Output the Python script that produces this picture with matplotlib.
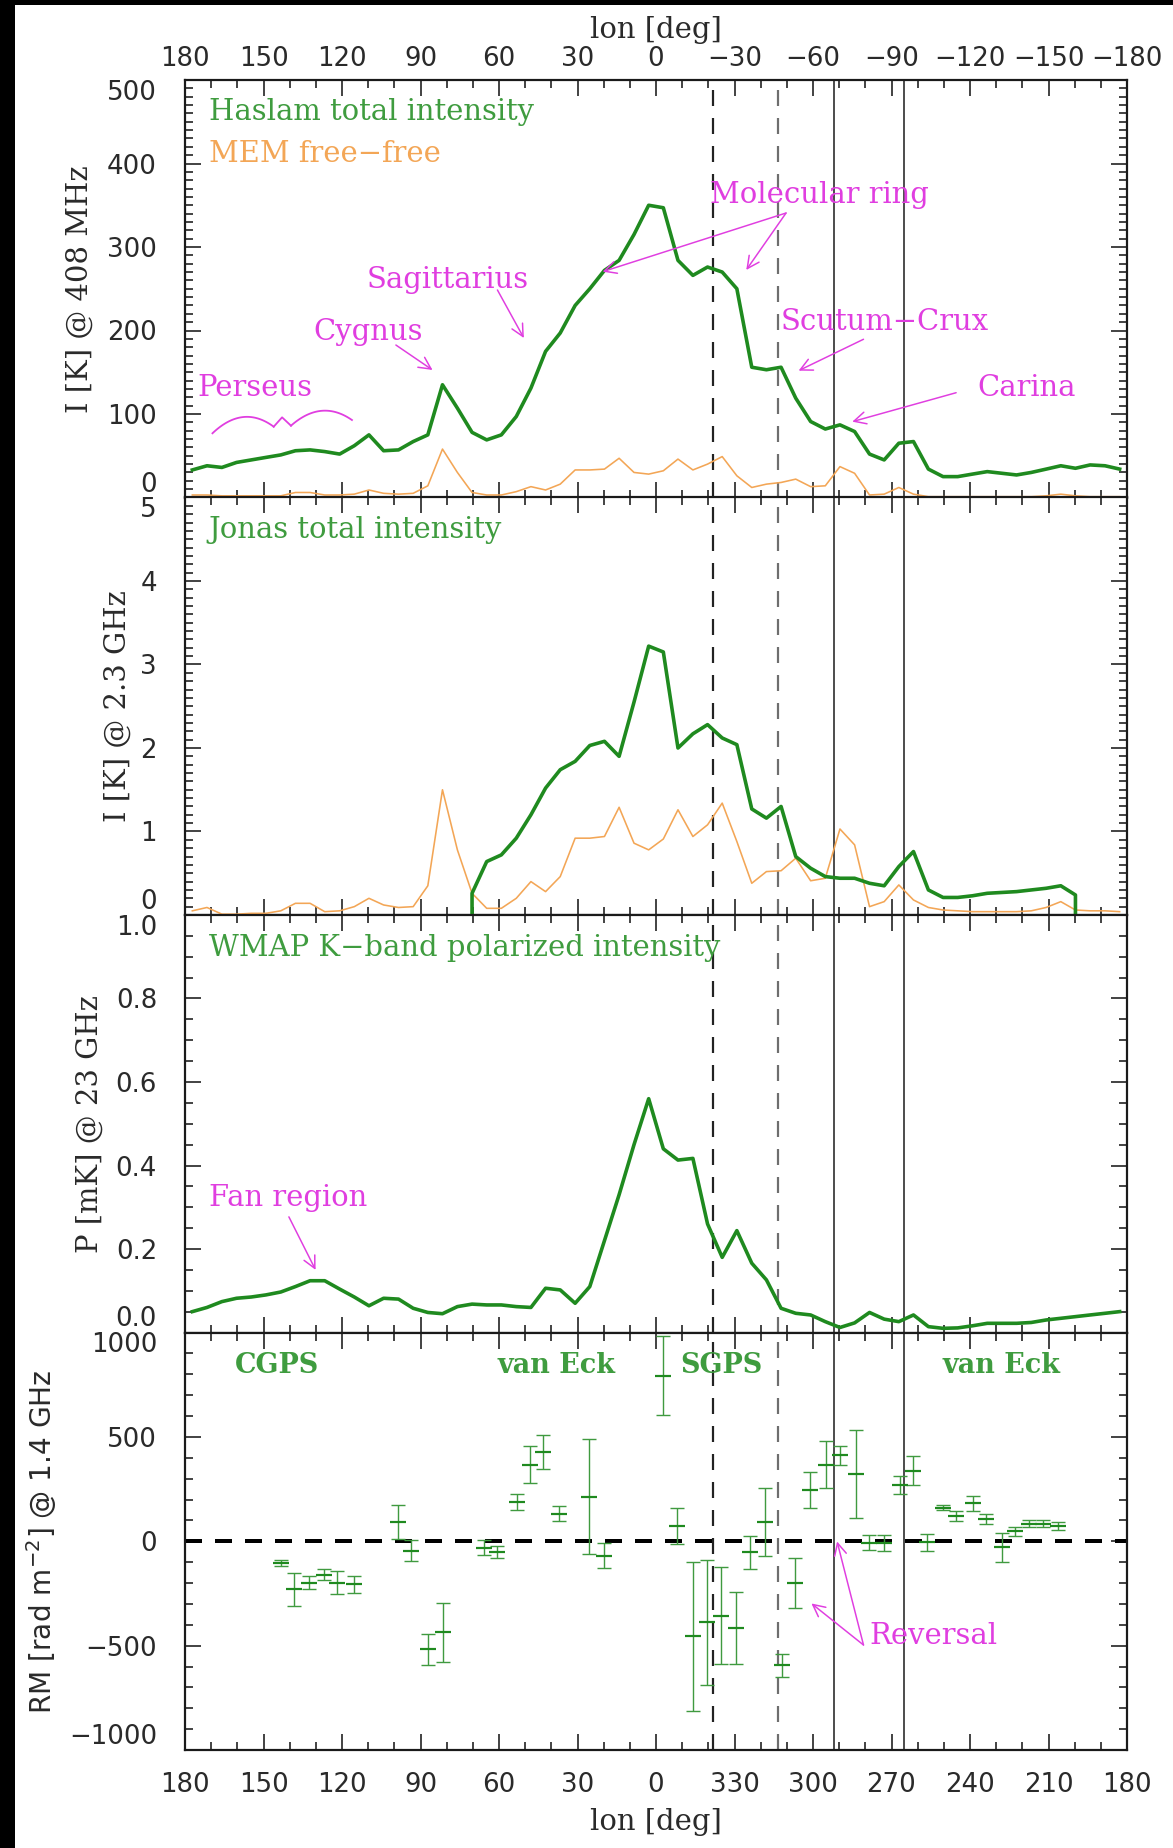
import matplotlib
matplotlib.use("Agg")
import numpy as np
import matplotlib.pyplot as plt
from matplotlib.ticker import MultipleLocator
from matplotlib.patches import Rectangle

plt.rcParams['lines.scale_dashes'] = False

W, H, DPI = 1173, 1848, 100
def pt(p):
    return p * 72.0 / DPI

# ---------------- data ----------------
lon = [177.2, 171.6, 165.9, 160.3, 154.7, 149.1, 143.4, 137.8, 132.2, 126.6,
       120.9, 115.3, 109.7, 104.1, 98.4, 92.8, 87.2, 81.6, 75.9, 70.3,
       64.7, 59.1, 53.4, 47.8, 42.2, 36.6, 30.9, 25.3, 19.7, 14.1,
       8.4, 2.8, -2.8, -8.4, -14.1, -19.7, -25.3, -30.9, -36.6, -42.2,
       -47.8, -53.4, -59.1, -64.7, -70.3, -75.9, -81.6, -87.2, -92.8, -98.4,
       -104.1, -109.7, -115.3, -120.9, -126.6, -132.2, -137.8, -143.4, -149.1, -154.7,
       -160.3, -165.9, -171.6, -177.2]

haslam = [33, 38, 36, 42, 45, 48, 51, 56, 57, 55,
          52, 62, 75, 56, 57, 67, 75, 135, 107, 78,
          69, 75, 97, 131, 175, 197, 230, 250, 272, 284,
          315, 350, 347, 284, 266, 276, 270, 250, 156, 153,
          156, 119, 91, 82, 87, 79, 52, 45, 65, 67,
          34, 25, 25, 28, 31, 29, 27, 30, 34, 38,
          35, 39, 38, 34]

mem_408 = [3, 3, 2, 2, 2, 2, 2, 6, 6, 3,
           3, 4, 9, 5, 4, 5, 14, 58, 30, 6,
           3, 3, 7, 13, 9, 16, 33, 33, 34, 47,
           30, 28, 32, 46, 33, 40, 49, 26, 12, 16,
           18, 22, 13, 14, 37, 29, 3, 4, 12, 4,
           1, 1, 1, 1, 1, 1, 1, 1, 2, 4,
           2, 1, 1, 1]

mem_2300 = [0.05, 0.09, 0.01, 0.01, 0.02, 0.02, 0.05, 0.14, 0.14, 0.04,
            0.05, 0.10, 0.20, 0.12, 0.09, 0.10, 0.35, 1.50, 0.78, 0.26,
            0.08, 0.08, 0.20, 0.40, 0.28, 0.46, 0.92, 0.92, 0.94, 1.29,
            0.86, 0.78, 0.91, 1.26, 0.94, 1.08, 1.34, 0.88, 0.38, 0.52,
            0.53, 0.68, 0.41, 0.44, 1.03, 0.84, 0.10, 0.16, 0.36, 0.18,
            0.09, 0.06, 0.05, 0.04, 0.04, 0.04, 0.04, 0.05, 0.09, 0.16,
            0.06, 0.05, 0.05, 0.04]

jonas_lon = [70.3, 70.3, 64.7, 59.1, 53.4, 47.8, 42.2, 36.6, 30.9, 25.3, 19.7, 14.1,
             8.4, 2.8, -2.8, -8.4, -14.1, -19.7, -25.3, -30.9, -36.6, -42.2,
             -47.8, -53.4, -59.1, -64.7, -70.3, -75.9, -81.6, -87.2, -92.8, -98.4,
             -104.1, -109.7, -115.3, -120.9, -126.6, -132.2, -137.8, -143.4, -149.1, -154.7,
             -160.3, -160.3]
jonas = [0.0, 0.26, 0.64, 0.72, 0.92, 1.20, 1.52, 1.74, 1.84, 2.03, 2.08, 1.90,
         2.55, 3.22, 3.15, 2.00, 2.17, 2.28, 2.12, 2.04, 1.27, 1.16,
         1.30, 0.70, 0.56, 0.46, 0.44, 0.44, 0.38, 0.35, 0.58, 0.76,
         0.30, 0.21, 0.21, 0.23, 0.26, 0.27, 0.28, 0.30, 0.32, 0.35,
         0.24, 0.0]

wmap_p = [0.050, 0.060, 0.074, 0.082, 0.085, 0.090, 0.097, 0.110, 0.124, 0.124,
          0.104, 0.085, 0.064, 0.082, 0.080, 0.058, 0.048, 0.045, 0.062, 0.068,
          0.066, 0.066, 0.062, 0.060, 0.106, 0.102, 0.070, 0.110, 0.220, 0.330,
          0.450, 0.560, 0.440, 0.413, 0.417, 0.260, 0.180, 0.244, 0.166, 0.126,
          0.058, 0.046, 0.042, 0.026, 0.012, 0.023, 0.048, 0.032, 0.026, 0.042,
          0.014, 0.010, 0.011, 0.016, 0.022, 0.022, 0.022, 0.024, 0.030, 0.034,
          0.038, 0.042, 0.046, 0.050]

rm_lon = [143.2, 138.4, 132.5, 126.7, 121.8, 115.4, 98.6, 93.5, 87.2, 81.3,
          65.7, 60.6, 53.3, 48.2, 43.0, 36.9, 25.5, 19.7, -2.5, -8.2,
          -14.0, -19.3, -24.8, -30.5, -36.0, -41.7, -48.2, -53.3, -58.8, -64.9,
          -70.4, -76.4, -81.5, -87.3, -93.1, -98.1, -103.6, -109.7, -114.7, -121.2,
          -126.3, -132.1, -137.1, -142.6, -148.0, -153.7]
rm_val = [-105, -231, -198, -161, -198, -206, 92, -45, -518, -437,
          -30, -53, 189, 366, 428, 132, 213, -69, 794, 73,
          -456, -389, -356, -416, -53, 92, -593, -201, 245, 366,
          411, 321, -8, -8, 269, 337, -5, 160, 121, 181,
          108, -29, 47, 84, 84, 73]
rm_err = [15, 80, 30, 27, 55, 40, 82, 52, 76, 143,
          35, 28, 38, 88, 80, 36, 276, 60, 190, 85,
          355, 298, 234, 171, 80, 164, 55, 121, 85, 113,
          46, 212, 36, 40, 43, 69, 40, 12, 26, 38,
          24, 70, 20, 16, 18, 20]

ref_dashed = [-21.6, -46.5]
ref_solid = [-68.1, -94.8]

xtick_pos = [180, 150, 120, 90, 60, 30, 0, -30, -60, -90, -120, -150, -180]
top_labels = ['180', '150', '120', '90', '60', '30', '0', '\u221230', '\u221260',
              '\u221290', '\u2212120', '\u2212150', '\u2212180']
bottom_labels = ['180', '150', '120', '90', '60', '30', '0', '330', '300',
                 '270', '240', '210', '180']

y1_ticks = [0, 100, 200, 300, 400, 500]
y1_labels = ['0', '100', '200', '300', '400', '500']
y2_ticks = [0, 1, 2, 3, 4, 5]
y2_labels = ['0', '1', '2', '3', '4', '5']
y3_ticks = [0.0, 0.2, 0.4, 0.6, 0.8, 1.0]
y3_labels = ['0.0', '0.2', '0.4', '0.6', '0.8', '1.0']
y4_ticks = [-1000, -500, 0, 500, 1000]
y4_labels = ['\u22121000', '\u2212500', '0', '500', '1000']

# ---------------- style ----------------
GREEN = '#1f8a1f'
GREEN_TXT = '#3f9c3f'
ORANGE = '#f3a656'
MAG = '#e03ee0'
ERR_GREEN = '#3f9a3f'
AXC = '#1a1a1a'
SERIF = 'DejaVu Serif'
SANS = 'DejaVu Sans'
FS_TXT = pt(29)
FS_TICK = pt(26)

fig = plt.figure(figsize=(W / DPI, H / DPI), dpi=DPI, facecolor='white')
fig.add_artist(Rectangle((0, 0), 15 / W, 1, transform=fig.transFigure,
                         facecolor='black', edgecolor='none', zorder=10))
fig.add_artist(Rectangle((0, 1 - 5 / H), 1, 5 / H, transform=fig.transFigure,
                         facecolor='black', edgecolor='none', zorder=10))

L, R = 185, 1127
tops = [80, 497.5, 915, 1332.5]
PH = 417.5
axes = [fig.add_axes([L / W, 1 - (t + PH) / H, (R - L) / W, PH / H]) for t in tops]
ax1, ax2, ax3, ax4 = axes

specs = [((0, 500), y1_ticks, y1_labels, 10),
         ((0, 5), y2_ticks, y2_labels, 0.1),
         ((0, 1), y3_ticks, y3_labels, 0.05),
         ((-1000, 1000), y4_ticks, y4_labels, 100)]

for ax, (yl, yt, ylab, mn) in zip(axes, specs):
    ax.set_xlim(180, -180)
    ax.set_ylim(*yl)
    ax.set_xticks(xtick_pos)
    ax.xaxis.set_minor_locator(MultipleLocator(10))
    ax.set_yticks(yt, ylab)
    ax.yaxis.set_minor_locator(MultipleLocator(mn))
    ax.tick_params(which='both', direction='in', top=True, right=True,
                   bottom=True, left=True, width=pt(1.6), color=AXC)
    ax.tick_params(which='major', length=pt(16))
    ax.tick_params(which='minor', length=pt(8))
    ax.tick_params(axis='x', labelbottom=False, labeltop=False)
    ax.tick_params(axis='y', labelsize=FS_TICK, pad=pt(28), labelcolor='#2a2a2a')
    for lab in ax.get_yticklabels():
        lab.set_family(SANS)
    labs = ax.get_yticklabels()
    labs[0].set_va('bottom')
    labs[-1].set_va('top')
    for s in ax.spines.values():
        s.set_linewidth(pt(2.2))
        s.set_color(AXC)
    for xv, c in zip(ref_dashed, ['#222222', '#6e6e6e']):
        ax.axvline(xv, color=c, lw=pt(2.2), ls=(0, (pt(16), pt(12))), zorder=1)
    for xv in ref_solid:
        ax.axvline(xv, color='#505050', lw=pt(2.0), zorder=1)

ax1.set_xticks(xtick_pos, top_labels)
ax1.tick_params(axis='x', labeltop=True, labelsize=FS_TICK, pad=pt(8), labelcolor='#2a2a2a')
ax4.set_xticks(xtick_pos, bottom_labels)
ax4.tick_params(axis='x', labelbottom=True, labelsize=FS_TICK, pad=pt(22), labelcolor='#2a2a2a')

# ---------------- curves ----------------
ax1.plot(lon, mem_408, color=ORANGE, lw=pt(1.6), zorder=3)
ax1.plot(lon, haslam, color=GREEN, lw=pt(3.6), zorder=4, solid_joinstyle='round')
ax2.plot(lon, mem_2300, color=ORANGE, lw=pt(1.6), zorder=3)
ax2.plot(jonas_lon, jonas, color=GREEN, lw=pt(3.6), zorder=4, solid_joinstyle='round')
ax3.plot(lon, wmap_p, color=GREEN, lw=pt(3.6), zorder=4, solid_joinstyle='round')

ax4.axhline(0, color='black', lw=pt(4), ls=(0, (pt(17), pt(13))), zorder=2)
ax4.errorbar(rm_lon, rm_val, yerr=rm_err, fmt='none', ecolor=ERR_GREEN,
             elinewidth=pt(1.4), capsize=pt(7), capthick=pt(1.4), zorder=4)
ax4.plot(rm_lon, rm_val, ls='none', marker='_', ms=pt(16), mew=pt(2.2),
         color=GREEN, zorder=5)

# ---------------- texts ----------------
tkw = dict(fontsize=FS_TXT, family=SERIF, va='center')
ax1.text(171.0, 462, 'Haslam total intensity', color=GREEN_TXT, ha='left', **tkw)
ax1.text(171.0, 411, 'MEM free\u2212free', color=ORANGE, ha='left', **tkw)
ax2.text(171.0, 4.61, 'Jonas total intensity', color=GREEN_TXT, ha='left', **tkw)
ax3.text(171.0, 0.92, 'WMAP K\u2212band polarized intensity', color=GREEN_TXT, ha='left', **tkw)

bkw = dict(fontsize=pt(27), family=SERIF, va='center', color=GREEN_TXT,
           fontweight='bold', ha='left')
ax4.text(160.9, 842, 'CGPS', **bkw)
ax4.text(60.6, 842, 'van Eck', **bkw)
ax4.text(-9.1, 842, 'SGPS', **bkw)
ax4.text(-109.6, 842, 'van Eck', **bkw)

mkw = dict(fontsize=FS_TXT, family=SERIF, va='center', color=MAG)
akw = dict(arrowstyle='->', color=MAG, lw=pt(1.5), shrinkA=0, shrinkB=0,
           mutation_scale=pt(30))

def arrow(ax, tail, tip):
    ax.annotate('', xy=tip, xytext=tail, arrowprops=akw, zorder=6)

ax1.text(175.4, 131, 'Perseus', ha='left', **mkw)
# Perseus brace: two humps with a notch
a1 = np.array([[169.5, 76.9], [158.6, 96.0], [146.1, 84.8]])
a2 = np.array([[139.5, 86.0], [126.4, 104.0], [116.2, 92.8]])
for arc in (a1, a2):
    c = np.polyfit(arc[:, 0], arc[:, 1], 2)
    xs = np.linspace(arc[0, 0], arc[-1, 0], 40)
    ax1.plot(xs, np.polyval(c, xs), color=MAG, lw=pt(1.8), zorder=6)
ax1.plot([146.1, 142.9, 139.5], [84.8, 96.0, 86.0], color=MAG, lw=pt(1.8), zorder=6)

ax1.text(109.9, 198, 'Cygnus', ha='center', **mkw)
arrow(ax1, (99.4, 182.6), (85.4, 152.7))
ax1.text(79.5, 260.5, 'Sagittarius', ha='center', **mkw)
arrow(ax1, (60.6, 248.5), (50.5, 191))
ax1.text(-62.5, 362, 'Molecular ring', ha='center', **mkw)
arrow(ax1, (-49.7, 340.7), (20.4, 270.4))
arrow(ax1, (-49.7, 340.7), (-34.5, 272.5))
ax1.text(-87.5, 210.5, 'Scutum\u2212Crux', ha='center', **mkw)
arrow(ax1, (-79.3, 189.5), (-54.5, 151.9))
ax1.text(-141.5, 131, 'Carina', ha='center', **mkw)
arrow(ax1, (-114.7, 125.5), (-75.0, 90.8))

ax3.text(171.0, 0.322, 'Fan region', ha='left', **mkw)
arrow(ax3, (140.3, 0.277), (130.1, 0.15))

ax4.text(-81.5, -456, 'Reversal', ha='left', **mkw)
arrow(ax4, (-79.3, -497), (-69.2, -1))
arrow(ax4, (-79.3, -497), (-59.4, -298))

# axis labels
lkw = dict(fontsize=FS_TXT, family=SERIF, color='#2a2a2a', ha='center', va='center')
fig.text(656 / W, 1 - 30 / H, 'lon [deg]', **lkw)
fig.text(656 / W, 1 - 1822 / H, 'lon [deg]', **lkw)
fig.text(80 / W, 1 - 288.75 / H, 'I [K] @ 408 MHz', rotation=90, **lkw)
fig.text(118 / W, 1 - 706.25 / H, 'I [K] @ 2.3 GHz', rotation=90, **lkw)
fig.text(90 / W, 1 - 1123.75 / H, 'P [mK] @ 23 GHz', rotation=90, **lkw)
fig.text(42 / W, 1 - 1541.25 / H, r'RM [rad m$^{-2}$] @ 1.4 GHz', rotation=90,
         fontsize=pt(28), family=SANS, color='#2a2a2a', ha='center', va='center')

fig.savefig('out.png', dpi=DPI, facecolor='white')
